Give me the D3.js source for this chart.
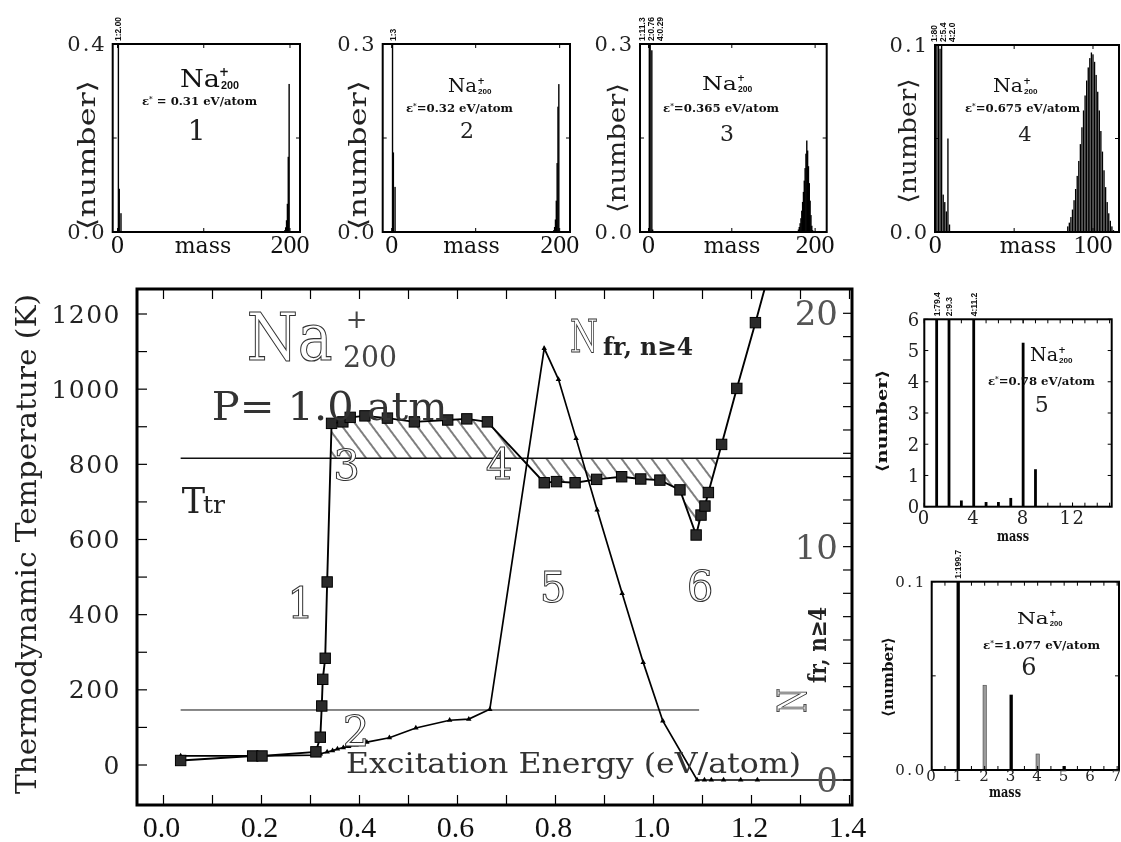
<!DOCTYPE html>
<html>
<head>
<meta charset="utf-8">
<title>Na200+ caloric curve and fragment distributions</title>
<script src="https://cdn.jsdelivr.net/npm/d3@7/dist/d3.min.js"></script>
<style>
  html, body { margin: 0; padding: 0; background: #fff; }
  svg { display: block; filter: grayscale(1); }
</style>
</head>
<body>
<svg id="fig" width="1121" height="842"></svg>
<script>
// ---------------- main panel data ----------------
// thermodynamic temperature (K) against excitation energy (eV/atom)
const energyTemp = [0.035, 0.182, 0.201, 0.311, 0.320, 0.323, 0.325, 0.330, 0.334, 0.343, 0.366, 0.381,
  0.411, 0.457, 0.512, 0.580, 0.619, 0.661, 0.777, 0.802, 0.840, 0.884, 0.935, 0.974, 1.013, 1.054,
  1.087, 1.097, 1.105, 1.112, 1.139, 1.170, 1.208, 1.240];
const temperature = [12, 24, 24, 35, 74, 157, 228, 284, 487, 909, 913, 925,
  929, 923, 913, 918, 921, 913, 751, 754, 751, 760, 767, 761, 758, 732,
  612, 665, 689, 725, 853, 1002, 1177, 1330];
// number of fragments with n >= 4 (right axis)
const energyFrag = [0.035, 0.182, 0.201, 0.311, 0.320, 0.334, 0.345, 0.355, 0.367, 0.378, 0.393, 0.415,
  0.461, 0.515, 0.584, 0.623, 0.666, 0.777, 0.806, 0.842, 0.885, 0.936, 0.979, 1.019, 1.089, 1.104,
  1.118, 1.143, 1.178, 1.212];
const fragments = [1.03, 1.03, 1.03, 1.07, 1.12, 1.20, 1.26, 1.33, 1.39, 1.44, 1.50, 1.62,
  1.81, 2.23, 2.56, 2.61, 3.03, 18.5, 17.17, 14.64, 11.57, 8.0, 5.04, 2.53, 0, 0,
  0, 0, 0, 0];
const transitionTemp = 816;     // T_tr
const fragThreshold = 3;        // reference level on the fragment axis
const energyTicks = [0.0, 0.2, 0.4, 0.6, 0.8, 1.0, 1.2, 1.4];
const tempTicks = [0, 200, 400, 600, 800, 1000, 1200];
const fragTicks = [0, 10, 20];

// ---------------- inset data: fragment mass distributions ----------------
const frag1Mass = [1, 2, 4, 194, 195, 196, 197, 198, 199];
const frag1Count = [2.00, 0.092, 0.040, 0.004, 0.010, 0.025, 0.060, 0.160, 0.315];
const frag1Tags = ["1:2.00"];

const frag2Mass = [1, 2, 4, 193, 194, 195, 196, 197, 198, 199];
const frag2Count = [3, 0.127, 0.072, 0.003, 0.008, 0.020, 0.050, 0.110, 0.200, 0.236];
const frag2Tags = ["1:3"];

const frag3Mass = [1, 2, 4, 5, 180, 181, 182, 183, 184, 185, 186, 187, 188, 189, 190, 191, 192, 193, 194, 195, 196, 197];
const frag3Count = [11.3, 0.76, 0.29, 0.004, 0.004, 0.008, 0.014, 0.022, 0.034, 0.048, 0.064, 0.082, 0.102, 0.125,
  0.146, 0.130, 0.105, 0.078, 0.050, 0.027, 0.010, 0.003];
const frag3Tags = ["1:11.3", "2:0.76", "4:0.29"];

const frag4Mass = [1, 2, 3, 4, 5, 6, 7, 8, 9,
  84, 85, 86, 87, 88, 89, 90, 91, 92, 93, 94, 95, 96, 97, 98, 99, 100,
  101, 102, 103, 104, 105, 106, 107, 108, 109, 110, 111, 112, 113];
const frag4Count = [80, 5.4, 0.098, 2.0, 0.020, 0.016, 0.011, 0.050, 0.004,
  0.003, 0.005, 0.008, 0.012, 0.017, 0.023, 0.030, 0.038, 0.047, 0.056, 0.065, 0.073, 0.081, 0.088, 0.093, 0.096, 0.095,
  0.091, 0.084, 0.075, 0.065, 0.054, 0.043, 0.033, 0.024, 0.016, 0.010, 0.006, 0.003, 0.001];
const frag4Tags = ["1:80", "2:5.4", "4:2.0"];

const frag5Mass = [1, 2, 3, 4, 5, 6, 7, 8, 9];
const frag5Count = [79.4, 9.3, 0.20, 11.2, 0.15, 0.15, 0.28, 5.25, 1.20];
const frag5Tags = ["1:79.4", "2:9.3", "4:11.2"];

const frag6Mass = [1, 2, 3, 4, 5];
const frag6Count = [199.7, 0.045, 0.040, 0.0085, 0.0021];
const frag6Tags = ["1:199.7"];

const panelEnergy = ["ε* = 0.31 eV/atom", "ε*=0.32 eV/atom", "ε*=0.365 eV/atom",
  "ε*=0.675 eV/atom", "ε*=0.78 eV/atom", "ε*=1.077 eV/atom"];
const panelIds = ["1", "2", "3", "4", "5", "6"];

// ---------------- drawing ----------------
const SERIF = "'DejaVu Serif', serif";
const TIMES = "'Liberation Serif', serif";
const SANS = "'Liberation Sans', sans-serif";
const svg = d3.select("#fig");
const defs = svg.append("defs");

function txt(parent, s, o) {
  const t = parent.append("text").attr("x", o.x).attr("y", o.y).text(s)
    .attr("font-family", o.ff || SERIF).attr("font-size", o.fs).attr("fill", o.fill || "#111");
  if (o.anchor) t.attr("text-anchor", o.anchor);
  if (o.w) t.attr("textLength", o.w).attr("lengthAdjust", "spacingAndGlyphs");
  if (o.weight) t.attr("font-weight", o.weight);
  if (o.stroke) t.attr("stroke", o.stroke).attr("stroke-width", o.sw || 1);
  if (o.ls) t.attr("letter-spacing", o.ls);
  if (o.db) t.attr("dominant-baseline", o.db);
  if (o.rotate) t.attr("transform", `rotate(${o.rotate},${o.x},${o.y})`);
  return t;
}

// hatch pattern for the areas between the caloric curve and T_tr
defs.append("pattern").attr("id", "hatch").attr("patternUnits", "userSpaceOnUse")
  .attr("width", 12).attr("height", 12).attr("patternTransform", "rotate(-36.87)")
  .append("line").attr("x1", 6).attr("y1", -1).attr("x2", 6).attr("y2", 13)
  .attr("stroke", "#000").attr("stroke-width", 1);

// ---- main panel ----
const frame = { left: 137, right: 852, top: 289, bottom: 805 };
const x = d3.scaleLinear().domain([0, 1.4]).range([163.5, 849.5]);
const yT = d3.scaleLinear().domain([0, 1200]).range([765, 314]);
const yN = d3.scaleLinear().domain([0, 20]).range([780, 313.3]);

defs.append("clipPath").attr("id", "mainClip").append("rect")
  .attr("x", frame.left).attr("y", frame.top)
  .attr("width", frame.right - frame.left).attr("height", frame.bottom - frame.top);

const main = svg.append("g");
const plot = main.append("g").attr("clip-path", "url(#mainClip)");

const tempPts = energyTemp.map((e, i) => ({ e, t: temperature[i] }));
const fragPts = energyFrag.map((e, i) => ({ e, n: fragments[i] }));

// crossings of the caloric curve with T_tr bound the hatched region
const cross = [];
for (let i = 0; i < tempPts.length - 1; i++) {
  const a = tempPts[i], b = tempPts[i + 1];
  if ((a.t - transitionTemp) * (b.t - transitionTemp) < 0) {
    cross.push(a.e + (transitionTemp - a.t) * (b.e - a.e) / (b.t - a.t));
  }
}
const eStart = cross[0], eEnd = cross[cross.length - 1];
const hatchPts = [{ e: eStart, t: transitionTemp }]
  .concat(tempPts.filter(p => p.e > eStart && p.e < eEnd))
  .concat([{ e: eEnd, t: transitionTemp }]);
plot.append("path")
  .attr("d", d3.area().x(p => x(p.e)).y0(yT(transitionTemp)).y1(p => yT(p.t))(hatchPts))
  .attr("fill", "url(#hatch)").attr("fill-rule", "evenodd").attr("stroke", "none");

// T_tr line
plot.append("line")
  .attr("x1", x(energyTemp[0])).attr("x2", frame.right)
  .attr("y1", yT(transitionTemp)).attr("y2", yT(transitionTemp))
  .attr("stroke", "#111").attr("stroke-width", 1.6);

// fragment threshold line
const firstZero = fragPts.find(p => p.n === 0);
plot.append("line")
  .attr("x1", x(energyFrag[0])).attr("x2", x(firstZero.e) + 2)
  .attr("y1", yN(fragThreshold)).attr("y2", yN(fragThreshold))
  .attr("stroke", "#111").attr("stroke-width", 1);

// fragment curve (right axis) with its zero level continued to the frame
plot.append("path")
  .attr("d", d3.line().x(p => x(p.e)).y(p => yN(p.n))(fragPts))
  .attr("fill", "none").attr("stroke", "#000").attr("stroke-width", 1.7);
plot.append("line")
  .attr("x1", x(fragPts[fragPts.length - 1].e)).attr("x2", frame.right)
  .attr("y1", yN(0)).attr("y2", yN(0))
  .attr("stroke", "#000").attr("stroke-width", 1.7);
plot.append("g").selectAll("path").data(fragPts).join("path")
  .attr("transform", p => `translate(${x(p.e)},${yN(p.n)})`)
  .attr("d", d3.symbol(d3.symbolTriangle, 13))
  .attr("fill", "#000");

// caloric curve
plot.append("path")
  .attr("d", d3.line().x(p => x(p.e)).y(p => yT(p.t))(tempPts))
  .attr("fill", "none").attr("stroke", "#000").attr("stroke-width", 1.9);
plot.append("g").selectAll("rect").data(tempPts).join("rect")
  .attr("x", p => x(p.e) - 5.2).attr("y", p => yT(p.t) - 5.2)
  .attr("width", 10.4).attr("height", 10.4)
  .attr("fill", "#2a2a2a").attr("stroke", "#000").attr("stroke-width", 1);

// ticks
const tk = main.append("g").attr("stroke", "#000").attr("stroke-width", 1.2);
d3.range(0, 1.401, 0.1).forEach(v => {
  tk.append("line").attr("x1", x(v)).attr("x2", x(v)).attr("y1", frame.top).attr("y2", frame.top + 10);
  tk.append("line").attr("x1", x(v)).attr("x2", x(v)).attr("y1", frame.bottom).attr("y2", frame.bottom - 10);
});
d3.range(0, 1201, 100).forEach(v => {
  tk.append("line").attr("x1", frame.left).attr("x2", frame.left + 10).attr("y1", yT(v)).attr("y2", yT(v));
});
d3.range(0, 21, 1).forEach(v => {
  tk.append("line").attr("x1", frame.right).attr("x2", frame.right - 9).attr("y1", yN(v)).attr("y2", yN(v));
});

// tick labels
energyTicks.forEach(v => txt(main, d3.format(".1f")(v), { x: x(v) - 2, y: 837, fs: 30, ff: TIMES, anchor: "middle", fill: "#111" }));
tempTicks.forEach(v => txt(main, d3.format("d")(v), { x: 121, y: yT(v), fs: 25, anchor: "end", ls: 1.5, db: "central", fill: "#222" }));
fragTicks.forEach(v => txt(main, d3.format("d")(v), { x: 838, y: yN(v), fs: 34, anchor: "end", db: "central", fill: "#555" }));

// frame
main.append("rect").attr("x", frame.left).attr("y", frame.top)
  .attr("width", frame.right - frame.left).attr("height", frame.bottom - frame.top)
  .attr("fill", "none").attr("stroke", "#000").attr("stroke-width", 3);

// axis titles
txt(main, "Thermodynamic Temperature (K)", { x: 36, y: 544, fs: 28, anchor: "middle", w: 500, rotate: -90, fill: "#222" });
txt(main, "Excitation Energy (eV/atom)", { x: 346, y: 773, fs: 27, w: 455, fill: "#333" });

// annotations
const outline = { fill: "#fff", stroke: "#333", sw: 1 };
txt(main, "Na", Object.assign({ x: 246.7, y: 360, fs: 66, w: 86 }, outline, { sw: 1.1 }));
txt(main, "+", { x: 356.7, y: 328, fs: 26, anchor: "middle", fill: "#444" });
txt(main, "200", { x: 343, y: 366.7, fs: 30, w: 54, fill: "#444" });
txt(main, "P= 1.0 atm", { x: 211.7, y: 420, fs: 39, w: 236, fill: "#333" });
txt(main, "T", { x: 181.7, y: 513, fs: 35, fill: "#222" });
txt(main, "tr", { x: 203, y: 513, fs: 25, fill: "#222" });
txt(main, "N", Object.assign({ x: 570, y: 352, fs: 45, w: 28 }, outline));
txt(main, "fr, n≥4", { x: 603, y: 355, fs: 24, w: 90, weight: "bold", fill: "#222" });
const rl = main.append("g").attr("transform", "translate(806,713) rotate(-90)");
txt(rl, "N", Object.assign({ x: 0, y: 0, fs: 40, w: 25 }, outline));
txt(rl, "fr, n≥4", { x: 30, y: 20, fs: 24, w: 76, weight: "bold", fill: "#222" });

const stageMarks = [
  { s: "1", x: 300.5, y: 618 }, { s: "2", x: 356, y: 746 }, { s: "3", x: 346.7, y: 480 },
  { s: "4", x: 499, y: 479 }, { s: "5", x: 553, y: 602 }, { s: "6", x: 700, y: 601 }
];
stageMarks.forEach(m => txt(main, m.s, Object.assign({ x: m.x, y: m.y, fs: 42, anchor: "middle" }, outline)));

// ---------------- insets ----------------
const insetLayout = [
  { left: 112.7, right: 300, top: 44, bottom: 232, xDomain: [-5.6, 211.6], yMax: 0.4, yFmt: ".1f",
    yTicks: [0, 0.4], yMinor: [0.2], xTicks: [0, 200], xMinor: [100], barW: 1.4, small: false,
    na: { x: 180, y: 87, w: 40, fs: 24 }, eps: { x: 142, y: 105, w: 115, fs: 11 }, id: { x: 196.7, y: 140, fs: 28 },
    ylab: { x: 87, y: 155, w: 150 }, mass: { x: 203, y: 253 }, xlabY: 253 },
  { left: 382.7, right: 570, top: 44, bottom: 232, xDomain: [-10.7, 212.3], yMax: 0.3, yFmt: ".1f",
    yTicks: [0, 0.3], yMinor: [0.15], xTicks: [0, 200], xMinor: [100], barW: 1.4, small: false,
    na: { x: 448, y: 92, w: 29, fs: 18 }, eps: { x: 406, y: 112, w: 107, fs: 11 }, id: { x: 467, y: 138, fs: 22 },
    ylab: { x: 357.5, y: 155, w: 150 }, mass: { x: 471.5, y: 253 }, xlabY: 253 },
  { left: 640, right: 826.7, top: 44, bottom: 232, xDomain: [-10.2, 213.9], yMax: 0.3, yFmt: ".1f",
    yTicks: [0, 0.3], yMinor: [0.15], xTicks: [0, 200], xMinor: [100], barW: 1.4, small: false,
    na: { x: 702, y: 90, w: 35, fs: 19 }, eps: { x: 663, y: 112, w: 116, fs: 11 }, id: { x: 727, y: 141, fs: 22 },
    ylab: { x: 617, y: 148, w: 130 }, mass: { x: 732, y: 253 }, xlabY: 253 },
  { left: 935, right: 1119, top: 45, bottom: 232, xDomain: [-0.2, 116.5], yMax: 0.1, yFmt: ".1f",
    yTicks: [0, 0.1], yMinor: [0.05], xTicks: [0, 100], xMinor: [50], barW: 1.35, small: false,
    na: { x: 993, y: 92, w: 30, fs: 18 }, eps: { x: 965, y: 112, w: 115, fs: 11 }, id: { x: 1025, y: 141, fs: 21 },
    ylab: { x: 907.5, y: 141, w: 125 }, mass: { x: 1028, y: 253 }, xlabY: 253 },
  { left: 924.3, right: 1111.7, top: 319.3, bottom: 506.7, xDomain: [0, 15.17], yMax: 6, yFmt: "d",
    yTicks: [0, 1, 2, 3, 4, 5, 6], yMinor: [], xTicks: [0, 4, 8, 12], xMinor: d3.range(0, 15.1, 1), barW: 2.8, small: true,
    na: { x: 1030, y: 361, w: 28, fs: 18 }, eps: { x: 988, y: 385, w: 107, fs: 11 }, id: { x: 1041.7, y: 412, fs: 22 },
    ylab: { x: 882, y: 421, w: 103 }, mass: { x: 1013, y: 541 }, xlabY: 524, labFs: 17 },
  { left: 931.7, right: 1119, top: 581.7, bottom: 770, xDomain: [0, 7.07], yMax: 0.1, yFmt: ".1f",
    yTicks: [0, 0.1], yMinor: [0.05], xTicks: [0, 1, 2, 3, 4, 5, 6, 7], xMinor: d3.range(0.5, 7.1, 1), barW: 3.3, small: true,
    evenGray: true,
    na: { x: 1017, y: 624, w: 31.7, fs: 17 }, eps: { x: 983, y: 649, w: 117, fs: 11 }, id: { x: 1029, y: 675, fs: 24 },
    ylab: { x: 888, y: 677, w: 80 }, mass: { x: 1005, y: 797 }, xlabY: 781, labFs: 14 }
];
const insetData = [
  { mass: frag1Mass, count: frag1Count, tags: frag1Tags },
  { mass: frag2Mass, count: frag2Count, tags: frag2Tags },
  { mass: frag3Mass, count: frag3Count, tags: frag3Tags },
  { mass: frag4Mass, count: frag4Count, tags: frag4Tags },
  { mass: frag5Mass, count: frag5Count, tags: frag5Tags },
  { mass: frag6Mass, count: frag6Count, tags: frag6Tags }
];

insetLayout.forEach((L, k) => {
  const D = insetData[k];
  const g = svg.append("g");
  const xs = d3.scaleLinear().domain(L.xDomain).range([L.left, L.right]);
  const ys = d3.scaleLinear().domain([0, L.yMax]).range([L.bottom, L.top]);
  const cid = "insetClip" + k;
  defs.append("clipPath").attr("id", cid).append("rect")
    .attr("x", L.left).attr("y", L.top).attr("width", L.right - L.left).attr("height", L.bottom - L.top);

  // bars
  const bars = D.mass.map((m, i) => ({ m, v: D.count[i] }));
  g.append("g").attr("clip-path", `url(#${cid})`).selectAll("rect").data(bars).join("rect")
    .attr("x", d => xs(d.m) - L.barW / 2).attr("width", L.barW)
    .attr("y", d => ys(Math.min(d.v, L.yMax * 1.05)))
    .attr("height", d => ys(0) - ys(Math.min(d.v, L.yMax * 1.05)))
    .attr("fill", d => (L.evenGray && d.m % 2 === 0) ? "#9a9a9a" : "#000")
    .attr("stroke", d => (L.evenGray && d.m % 2 === 0) ? "#444" : "none")
    .attr("stroke-width", 0.6);

  // ticks on all four sides
  const tg = g.append("g").attr("stroke", "#000").attr("stroke-width", 1);
  const tl = 4;
  L.xTicks.concat(L.xMinor).forEach(v => {
    tg.append("line").attr("x1", xs(v)).attr("x2", xs(v)).attr("y1", L.top).attr("y2", L.top + tl);
    tg.append("line").attr("x1", xs(v)).attr("x2", xs(v)).attr("y1", L.bottom).attr("y2", L.bottom - tl);
  });
  L.yTicks.concat(L.yMinor).forEach(v => {
    tg.append("line").attr("x1", L.left).attr("x2", L.left + tl).attr("y1", ys(v)).attr("y2", ys(v));
    tg.append("line").attr("x1", L.right).attr("x2", L.right - tl).attr("y1", ys(v)).attr("y2", ys(v));
  });

  g.append("rect").attr("x", L.left).attr("y", L.top)
    .attr("width", L.right - L.left).attr("height", L.bottom - L.top)
    .attr("fill", "none").attr("stroke", "#000").attr("stroke-width", 2);

  // tick labels
  if (!L.small) {
    L.yTicks.forEach(v => txt(g, d3.format(L.yFmt)(v), { x: L.left - 6, y: ys(v), fs: 21, ls: 2, anchor: "end", db: "central", fill: "#222" }));
    L.xTicks.forEach(v => txt(g, d3.format("d")(v), { x: xs(v), y: L.xlabY, fs: 26, ff: TIMES, anchor: "middle", fill: "#111" }));
    txt(g, "mass", { x: L.mass.x, y: L.mass.y, fs: 22, anchor: "middle", fill: "#111" });
    txt(g, "⟨number⟩", { x: L.ylab.x, y: L.ylab.y, fs: 24, w: L.ylab.w, anchor: "middle", db: "central", rotate: -90, fill: "#222" });
  } else {
    L.yTicks.forEach(v => txt(g, d3.format(L.yFmt)(v), { x: L.left - 5, y: ys(v), fs: L.labFs + 1, ls: L.labFs < 16 ? 2.5 : 0, anchor: "end", db: "central", fill: "#222" }));
    L.xTicks.forEach(v => txt(g, d3.format("d")(v), { x: xs(v), y: L.xlabY, fs: L.labFs + 1, ls: 1.5, anchor: "middle", fill: "#222" }));
    txt(g, "mass", { x: L.mass.x, y: L.mass.y, fs: 14, w: 32, weight: "bold", anchor: "middle", fill: "#111" });
    txt(g, "⟨number⟩", { x: L.ylab.x, y: L.ylab.y, fs: 15, w: L.ylab.w, weight: "bold", anchor: "middle", db: "central", rotate: -90, fill: "#111" });
  }

  // off-scale bar tags, spread apart when crowded
  const tagFs = 8.5;
  const tagX = D.tags.map(s => xs(+s.split(":")[0]));
  const spacing = 9;
  let pos = tagX.slice();
  for (let i = 1; i < pos.length; i++) {
    if (pos[i] - pos[i - 1] < spacing) {
      const mean = d3.mean(tagX);
      const start = Math.max(mean - (tagX.length - 1) * spacing / 2, L.left - 1);
      pos = tagX.map((_, j) => start + j * spacing);
      break;
    }
  }
  D.tags.forEach((s, i) => {
    txt(g, s, { x: pos[i] + tagFs * 0.36, y: L.top - 3, fs: tagFs, ff: SANS, weight: "bold", rotate: -90, fill: "#111" });
  });

  // panel title: Na200+
  txt(g, "Na", { x: L.na.x, y: L.na.y, fs: L.na.fs, w: L.na.w, fill: "#111" });
  const nx = L.na.x + L.na.w + 1;
  txt(g, "+", { x: nx + 3, y: L.na.y - L.na.fs * 0.45, fs: L.na.fs * 0.5, anchor: "middle", weight: "bold", fill: "#111" });
  txt(g, "200", { x: nx, y: L.na.y + 1.5, fs: L.na.fs * 0.45, ff: SANS, weight: "bold", fill: "#111" });

  // excitation energy line with superscript star
  const parts = panelEnergy[k].split("*");
  const et = g.append("text").attr("x", L.eps.x).attr("y", L.eps.y)
    .attr("font-family", SERIF).attr("font-weight", "bold").attr("font-size", L.eps.fs).attr("fill", "#111")
    .attr("textLength", L.eps.w).attr("lengthAdjust", "spacingAndGlyphs");
  et.append("tspan").text(parts[0]);
  et.append("tspan").attr("font-size", L.eps.fs * 0.6).attr("dy", -L.eps.fs * 0.4).text("*");
  et.append("tspan").attr("dy", L.eps.fs * 0.4).text(parts[1]);

  // panel number
  txt(g, panelIds[k], { x: L.id.x, y: L.id.y, fs: L.id.fs, anchor: "middle", fill: "#222" });
});
</script>
</body>
</html>
